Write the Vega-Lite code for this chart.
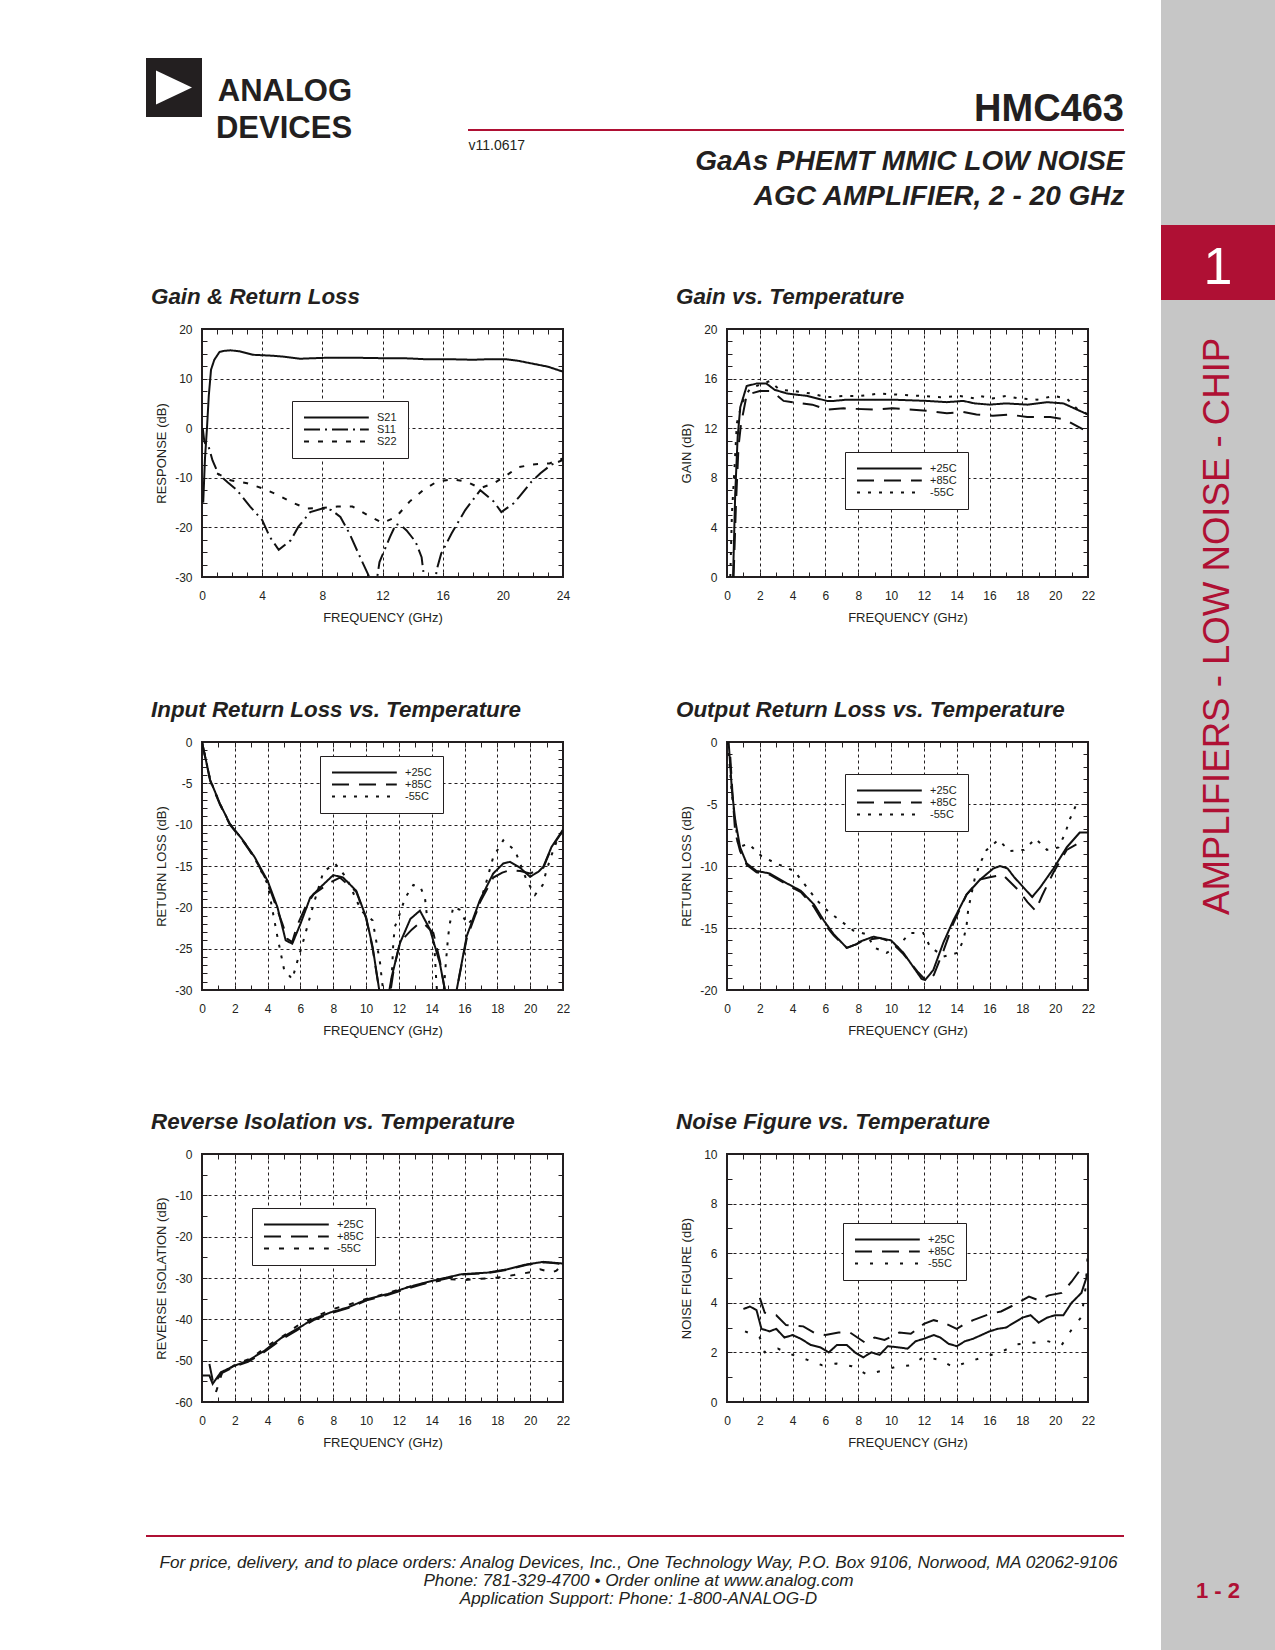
{
"$schema":"https://vega.github.io/schema/vega-lite/v6.json",
"padding":0,
"background":"white",
"data":{"values":[{}]},
"columns":8,
"spacing":0,
"bounds":"flush",
"align":"each",
"resolve":{"scale":{"strokeDash":"independent"},"legend":{"strokeDash":"independent"}},
"config":{
 "view":{"stroke":null},
 "font":"Liberation Sans",
 "axis":{"labelFont":"Liberation Sans","labelFontSize":12,"labelColor":"#231f20","titleFont":"Liberation Sans","titleFontSize":13,"titleFontWeight":"normal","titleColor":"#231f20","domain":false,"ticks":false,"tickSize":-5,"tickColor":"#231f20","tickWidth":1,"gridColor":"#231f20","gridDash":[3,3],"gridWidth":1,"gridOpacity":1,"labelFlush":false,"labelOverlap":false,"labelBound":false},
 "axisX":{"labelPadding":13,"titlePadding":10},
 "axisY":{"labelPadding":10,"titleX":-41,"titleBaseline":"middle"},
 "legend":{"orient":"none","strokeColor":"#231f20","fillColor":"white","padding":11,"labelFont":"Liberation Sans","labelFontSize":11,"labelColor":"#231f20","rowPadding":0,"symbolStrokeWidth":2,"symbolStrokeColor":"#111111","labelOffset":63,"symbolSize":81}
},
"concat":[
{"width":146,"height":58,"view":{"stroke":null},"mark":{"type":"text","text":""}},
{"width":56,"height":58,"view":{"stroke":null},"mark":{"type":"text","text":""}},
{"width":361,"height":58,"view":{"stroke":null},"mark":{"type":"text","text":""}},
{"width":164,"height":58,"view":{"stroke":null},"mark":{"type":"text","text":""}},
{"width":361,"height":58,"view":{"stroke":null},"mark":{"type":"text","text":""}},
{"width":36,"height":58,"view":{"stroke":null},"mark":{"type":"text","text":""}},
{"width":37,"height":58,"view":{"stroke":null},"mark":{"type":"text","text":""}},
{"width":114,"height":58,"view":{"stroke":null,"fill":"#c6c6c6"},"mark":{"type":"text","text":""}},

{"width":1,"height":1,"view":{"stroke":null},"mark":{"type":"text","text":""}},
{"width":56,"height":59,"view":{"stroke":null,"fill":"#231f20"},
 "title":{"text":["ANALOG","DEVICES"],"orient":"right","angle":0,"align":"right","anchor":"middle","baseline":"middle","offset":14,"dy":4.2,"fontSize":31,"fontWeight":"bold","font":"Liberation Sans","lineHeight":37,"color":"#231f20"},
 "mark":{"type":"point","shape":"M-1,-0.95L1,0L-1,0.95Z","size":1296,"filled":true,"color":"white","opacity":1}},
{"width":1,"height":1,"view":{"stroke":null},"mark":{"type":"text","text":""}},
{"width":1,"height":1,"view":{"stroke":null},"mark":{"type":"text","text":""}},
{"width":1,"height":1,"view":{"stroke":null},"mark":{"type":"text","text":""}},
{"width":1,"height":1,"view":{"stroke":null},"mark":{"type":"text","text":""}},
{"width":1,"height":1,"view":{"stroke":null},"mark":{"type":"text","text":""}},
{"width":114,"height":59,"view":{"stroke":null,"fill":"#c6c6c6"},"mark":{"type":"text","text":""}},

{"width":1,"height":1,"view":{"stroke":null},"mark":{"type":"text","text":""}},
{"width":1,"height":1,"view":{"stroke":null},"mark":{"type":"text","text":""}},
{"width":1,"height":1,"view":{"stroke":null},"mark":{"type":"text","text":""}},
{"width":1,"height":1,"view":{"stroke":null},"mark":{"type":"text","text":""}},
{"width":1,"height":1,"view":{"stroke":null},"mark":{"type":"text","text":""}},
{"width":1,"height":1,"view":{"stroke":null},"mark":{"type":"text","text":""}},
{"width":1,"height":1,"view":{"stroke":null},"mark":{"type":"text","text":""}},
{"width":114,"height":12,"view":{"stroke":null,"fill":"#c6c6c6"},"mark":{"type":"text","text":""}},

{"width":1,"height":1,"view":{"stroke":null},"mark":{"type":"text","text":""}},
{"width":1,"height":1,"view":{"stroke":null},"mark":{"type":"text","text":""}},
{"width":361,"height":2,"view":{"stroke":null},"mark":{"type":"bar","color":"#af1034"},
 "encoding":{"x":{"datum":0,"type":"quantitative","scale":{"domain":[0,1],"range":[266,361]},
  "axis":{"orient":"bottom","domain":false,"ticks":false,"labels":false,"grid":false,"title":"v11.0617","titleAnchor":"start","titleAlign":"left","titleBaseline":"top","titleFont":"Liberation Sans","titleFontSize":14,"titleFontWeight":"normal","titleColor":"#231f20","titlePadding":7}},
  "x2":{"datum":1}}},
{"width":164,"height":2,"view":{"stroke":null,"fill":"#af1034"},"mark":{"type":"text","text":""}},
{"width":361,"height":2,"view":{"stroke":null,"fill":"#af1034"},"mark":{"type":"text","text":""}},
{"width":36,"height":2,"view":{"stroke":null,"fill":"#af1034"},
 "title":{"text":"HMC463","orient":"top","anchor":"end","frame":"group","baseline":"top","offset":0,"fontSize":38,"fontWeight":"bold","font":"Liberation Sans","color":"#231f20"},
 "mark":{"type":"point","opacity":0,"size":0},
 "encoding":{"x":{"datum":0,"type":"quantitative","scale":{"domain":[0,1]},
  "axis":{"orient":"bottom","domain":false,"ticks":false,"labels":false,"grid":false,"title":["GaAs PHEMT MMIC LOW NOISE","AGC AMPLIFIER, 2 - 20 GHz"],"titleAnchor":"end","titleAlign":"right","titleBaseline":"top","titleFont":"Liberation Sans","titleFontSize":28,"titleFontWeight":"bold","titleFontStyle":"italic","titleLineHeight":35,"titleColor":"#231f20","titlePadding":16}}}},
{"width":1,"height":1,"view":{"stroke":null},"mark":{"type":"text","text":""}},
{"width":114,"height":2,"view":{"stroke":null,"fill":"#c6c6c6"},"mark":{"type":"text","text":""}},

{"width":1,"height":1,"view":{"stroke":null},"mark":{"type":"text","text":""}},
{"width":1,"height":1,"view":{"stroke":null},"mark":{"type":"text","text":""}},
{"width":1,"height":1,"view":{"stroke":null},"mark":{"type":"text","text":""}},
{"width":1,"height":1,"view":{"stroke":null},"mark":{"type":"text","text":""}},
{"width":1,"height":1,"view":{"stroke":null},"mark":{"type":"text","text":""}},
{"width":1,"height":1,"view":{"stroke":null},"mark":{"type":"text","text":""}},
{"width":1,"height":1,"view":{"stroke":null},"mark":{"type":"text","text":""}},
{"width":114,"height":94,"view":{"stroke":null,"fill":"#c6c6c6"},"mark":{"type":"text","text":""}},

{"width":1,"height":1,"view":{"stroke":null},"mark":{"type":"text","text":""}},
{"width":1,"height":1,"view":{"stroke":null},"mark":{"type":"text","text":""}},
{"width":1,"height":1,"view":{"stroke":null},"mark":{"type":"text","text":""}},
{"width":1,"height":1,"view":{"stroke":null},"mark":{"type":"text","text":""}},
{"width":1,"height":1,"view":{"stroke":null},"mark":{"type":"text","text":""}},
{"width":1,"height":1,"view":{"stroke":null},"mark":{"type":"text","text":""}},
{"width":1,"height":1,"view":{"stroke":null},"mark":{"type":"text","text":""}},
{"width":114,"height":75,"view":{"stroke":null,"fill":"#af1034"},"mark":{"type":"text","text":"1","font":"Liberation Sans","fontSize":52,"color":"white","align":"center","baseline":"middle","dy":5}},

{"width":1,"height":1,"view":{"stroke":null},"mark":{"type":"text","text":""}},
{"width":1,"height":1,"view":{"stroke":null},"mark":{"type":"text","text":""}},
{"width":1,"height":1,"view":{"stroke":null},"mark":{"type":"text","text":""}},
{"width":1,"height":1,"view":{"stroke":null},"mark":{"type":"text","text":""}},
{"width":1,"height":1,"view":{"stroke":null},"mark":{"type":"text","text":""}},
{"width":1,"height":1,"view":{"stroke":null},"mark":{"type":"text","text":""}},
{"width":1,"height":1,"view":{"stroke":null},"mark":{"type":"text","text":""}},
{"width":114,"height":29,"view":{"stroke":null,"fill":"#c6c6c6"},"mark":{"type":"text","text":""}},

{"width":1,"height":1,"view":{"stroke":null},"mark":{"type":"text","text":""}},
{"width":1,"height":1,"view":{"stroke":null},"mark":{"type":"text","text":""}},
{"width":361,"height":248,"view":{"stroke":"#231f20","strokeWidth":2},
 "title":{"text":"Gain & Return Loss","anchor":"start","frame":"group","dx":-51,"offset":15,"baseline":"top","fontSize":22.4,"fontStyle":"italic","fontWeight":"bold","font":"Liberation Sans","color":"#231f20"},
 "data":{"values":[
{"f":0.08,"v":-15,"s":"S21"},{"f":0.2,"v":-6,"s":"S21"},{"f":0.33,"v":0,"s":"S21"},{"f":0.45,"v":6.5,"s":"S21"},{"f":0.6,"v":11.8,"s":"S21"},{"f":0.82,"v":13.8,"s":"S21"},{"f":1.17,"v":15.4,"s":"S21"},{"f":1.5,"v":15.6,"s":"S21"},{"f":1.9,"v":15.7,"s":"S21"},{"f":2.5,"v":15.5,"s":"S21"},{"f":3.4,"v":14.8,"s":"S21"},{"f":4.75,"v":14.6,"s":"S21"},{"f":5.5,"v":14.4,"s":"S21"},{"f":6.5,"v":14.0,"s":"S21"},{"f":7.3,"v":14.1,"s":"S21"},{"f":8.3,"v":14.2,"s":"S21"},{"f":10.3,"v":14.2,"s":"S21"},{"f":12.3,"v":14.1,"s":"S21"},{"f":13.5,"v":14.1,"s":"S21"},{"f":14.9,"v":13.9,"s":"S21"},{"f":16.5,"v":13.9,"s":"S21"},{"f":18,"v":13.8,"s":"S21"},{"f":19,"v":13.9,"s":"S21"},{"f":20.2,"v":13.9,"s":"S21"},{"f":21,"v":13.6,"s":"S21"},{"f":22,"v":13.0,"s":"S21"},{"f":23,"v":12.4,"s":"S21"},{"f":24,"v":11.4,"s":"S21"},
{"f":0.05,"v":0,"s":"S11"},{"f":0.15,"v":-2.6,"s":"S11"},{"f":0.25,"v":-3.4,"s":"S11"},{"f":0.45,"v":-3.8,"s":"S11"},{"f":0.7,"v":-6.5,"s":"S11"},{"f":1.1,"v":-9.3,"s":"S11"},{"f":1.7,"v":-10.9,"s":"S11"},{"f":2.3,"v":-12.4,"s":"S11"},{"f":3.2,"v":-15.8,"s":"S11"},{"f":4.0,"v":-18.5,"s":"S11"},{"f":4.5,"v":-21.9,"s":"S11"},{"f":5.1,"v":-24.5,"s":"S11"},{"f":5.9,"v":-22.6,"s":"S11"},{"f":6.4,"v":-19.9,"s":"S11"},{"f":7.2,"v":-16.9,"s":"S11"},{"f":8.0,"v":-16.2,"s":"S11"},{"f":8.6,"v":-16.5,"s":"S11"},{"f":9.2,"v":-17.9,"s":"S11"},{"f":9.8,"v":-21.2,"s":"S11"},{"f":10.6,"v":-26.6,"s":"S11"},{"f":11.2,"v":-30.5,"s":"S11"},{"f":11.4,"v":-33,"s":"S11"},{"f":11.6,"v":-31,"s":"S11"},{"f":11.8,"v":-27,"s":"S11"},{"f":12.5,"v":-21.9,"s":"S11"},{"f":12.9,"v":-19.3,"s":"S11"},{"f":13.3,"v":-19.8,"s":"S11"},{"f":13.6,"v":-20.6,"s":"S11"},{"f":14.2,"v":-22.9,"s":"S11"},{"f":14.6,"v":-26,"s":"S11"},{"f":14.8,"v":-31,"s":"S11"},{"f":15.0,"v":-34,"s":"S11"},{"f":15.4,"v":-34,"s":"S11"},{"f":15.6,"v":-28.6,"s":"S11"},{"f":15.9,"v":-25.3,"s":"S11"},{"f":16.6,"v":-21.2,"s":"S11"},{"f":17.5,"v":-16.5,"s":"S11"},{"f":18.5,"v":-12.5,"s":"S11"},{"f":19.4,"v":-14.8,"s":"S11"},{"f":19.9,"v":-16.9,"s":"S11"},{"f":20.7,"v":-15.2,"s":"S11"},{"f":21.1,"v":-13.8,"s":"S11"},{"f":21.9,"v":-10.8,"s":"S11"},{"f":22.5,"v":-9.1,"s":"S11"},{"f":23.2,"v":-7.4,"s":"S11"},{"f":24,"v":-6.4,"s":"S11"},
{"f":1.0,"v":-9.1,"s":"S22"},{"f":1.9,"v":-10.5,"s":"S22"},{"f":3.0,"v":-11.1,"s":"S22"},{"f":4.0,"v":-12.1,"s":"S22"},{"f":5.0,"v":-13.4,"s":"S22"},{"f":6.0,"v":-15.0,"s":"S22"},{"f":7.0,"v":-16.2,"s":"S22"},{"f":8.0,"v":-16.1,"s":"S22"},{"f":9.0,"v":-15.8,"s":"S22"},{"f":10.0,"v":-15.8,"s":"S22"},{"f":11.0,"v":-17.5,"s":"S22"},{"f":12.0,"v":-19.1,"s":"S22"},{"f":12.9,"v":-17.9,"s":"S22"},{"f":13.8,"v":-14.8,"s":"S22"},{"f":14.7,"v":-12.5,"s":"S22"},{"f":15.6,"v":-10.8,"s":"S22"},{"f":16.7,"v":-10.3,"s":"S22"},{"f":17.6,"v":-10.8,"s":"S22"},{"f":18.5,"v":-12.1,"s":"S22"},{"f":19.4,"v":-11.1,"s":"S22"},{"f":20.2,"v":-9.6,"s":"S22"},{"f":21.0,"v":-7.9,"s":"S22"},{"f":22.0,"v":-7.3,"s":"S22"},{"f":23.1,"v":-7.1,"s":"S22"},{"f":24,"v":-6.1,"s":"S22"}
 ]},
 "layer":[
  {"mark":{"type":"line","color":"#111111","strokeWidth":2,"clip":true},
   "encoding":{
    "x":{"field":"f","type":"quantitative","scale":{"domain":[0,24],"nice":false},"axis":{"values":[0,4,8,12,16,20,24],"title":"FREQUENCY (GHz)","grid":true,"labelExpr":"'' + datum.value"}},
    "y":{"field":"v","type":"quantitative","scale":{"domain":[-30,20],"nice":false,"zero":false},"axis":{"values":[-30,-20,-10,0,10,20],"title":"RESPONSE (dB)","grid":true,"labelExpr":"'' + datum.value"}},
    "strokeDash":{"field":"s","type":"nominal","scale":{"domain":["S21","S11","S22"],"range":[[1,0],[16,5,2,5],[5,9]]},"legend":{"title":null,"legendX":90,"legendY":72,"symbolType":"M-1,0L13.4,0","symbolSize":81,"symbolStrokeWidth":2,"labelOffset":63}}
   }},
  {"mark":{"type":"point","opacity":0,"size":0},
   "encoding":{
    "x":{"field":"f","type":"quantitative","scale":{"domain":[0,24],"nice":false},"axis":{"orient":"bottom","values":[0,1,2,3,4,5,6,7,8,9,10,11,12,13,14,15,16,17,18,19,20,21,22,23,24],"labels":false,"grid":false,"ticks":true,"title":null}},
    "y":{"field":"v","type":"quantitative","scale":{"domain":[-30,20],"nice":false,"zero":false},"axis":{"orient":"left","values":[-30,-27.5,-25,-22.5,-20,-17.5,-15,-12.5,-10,-7.5,-5,-2.5,0,2.5,5,7.5,10,12.5,15,17.5,20],"labels":false,"grid":false,"ticks":true,"title":null}}
   }},
  {"mark":{"type":"point","opacity":0,"size":0},
   "encoding":{
    "x":{"field":"f","type":"quantitative","scale":{"domain":[0,24],"nice":false},"axis":{"orient":"top","values":[0,1,2,3,4,5,6,7,8,9,10,11,12,13,14,15,16,17,18,19,20,21,22,23,24],"labels":false,"grid":false,"ticks":true,"title":null}},
    "y":{"field":"v","type":"quantitative","scale":{"domain":[-30,20],"nice":false,"zero":false},"axis":{"orient":"right","values":[-30,-27.5,-25,-22.5,-20,-17.5,-15,-12.5,-10,-7.5,-5,-2.5,0,2.5,5,7.5,10,12.5,15,17.5,20],"labels":false,"grid":false,"ticks":true,"title":null}}
   }}
 ],
 "resolve":{"axis":{"x":"independent","y":"independent"}}
},
{"width":1,"height":1,"view":{"stroke":null},"mark":{"type":"text","text":""}},
{"width":361,"height":248,"view":{"stroke":"#231f20","strokeWidth":2},
 "title":{"text":"Gain vs. Temperature","anchor":"start","frame":"group","dx":-51,"offset":15,"baseline":"top","fontSize":22.4,"fontStyle":"italic","fontWeight":"bold","font":"Liberation Sans","color":"#231f20"},
 "data":{"values":[
{"f":0.37,"v":0,"s":"+25C"},{"f":0.5,"v":6.7,"s":"+25C"},{"f":0.65,"v":11.3,"s":"+25C"},{"f":0.81,"v":13.7,"s":"+25C"},{"f":1.2,"v":15.4,"s":"+25C"},{"f":1.8,"v":15.6,"s":"+25C"},{"f":2.4,"v":15.6,"s":"+25C"},{"f":2.9,"v":15.1,"s":"+25C"},{"f":3.65,"v":14.8,"s":"+25C"},{"f":4.9,"v":14.6,"s":"+25C"},{"f":6.1,"v":14.2,"s":"+25C"},{"f":6.5,"v":14.2,"s":"+25C"},{"f":7.3,"v":14.3,"s":"+25C"},{"f":9.1,"v":14.3,"s":"+25C"},{"f":10.1,"v":14.3,"s":"+25C"},{"f":12.2,"v":14.2,"s":"+25C"},{"f":13.4,"v":14.1,"s":"+25C"},{"f":14.4,"v":14.2,"s":"+25C"},{"f":15.1,"v":14.0,"s":"+25C"},{"f":16.0,"v":13.9,"s":"+25C"},{"f":17.0,"v":14.0,"s":"+25C"},{"f":18.3,"v":13.9,"s":"+25C"},{"f":19.5,"v":14.1,"s":"+25C"},{"f":20.5,"v":14.0,"s":"+25C"},{"f":21.0,"v":13.7,"s":"+25C"},{"f":22,"v":13.1,"s":"+25C"},
{"f":0.4,"v":0,"s":"+85C"},{"f":0.55,"v":6,"s":"+85C"},{"f":0.7,"v":10.5,"s":"+85C"},{"f":0.85,"v":12.3,"s":"+85C"},{"f":1.2,"v":14.7,"s":"+85C"},{"f":2.0,"v":15.0,"s":"+85C"},{"f":2.6,"v":15.0,"s":"+85C"},{"f":3.0,"v":14.7,"s":"+85C"},{"f":3.45,"v":14.2,"s":"+85C"},{"f":4.0,"v":14.1,"s":"+85C"},{"f":5.2,"v":13.9,"s":"+85C"},{"f":6.1,"v":13.5,"s":"+85C"},{"f":7.1,"v":13.6,"s":"+85C"},{"f":8.9,"v":13.5,"s":"+85C"},{"f":10.1,"v":13.6,"s":"+85C"},{"f":12.2,"v":13.4,"s":"+85C"},{"f":13.4,"v":13.2,"s":"+85C"},{"f":14.4,"v":13.3,"s":"+85C"},{"f":15.2,"v":13.1,"s":"+85C"},{"f":16.2,"v":13.0,"s":"+85C"},{"f":17.2,"v":13.1,"s":"+85C"},{"f":18.3,"v":12.9,"s":"+85C"},{"f":19.7,"v":12.9,"s":"+85C"},{"f":20.6,"v":12.7,"s":"+85C"},{"f":21.7,"v":11.9,"s":"+85C"},
{"f":0.2,"v":0,"s":"-55C"},{"f":0.3,"v":5.1,"s":"-55C"},{"f":0.45,"v":8.6,"s":"-55C"},{"f":0.6,"v":12.4,"s":"-55C"},{"f":0.9,"v":14.0,"s":"-55C"},{"f":1.4,"v":15.2,"s":"-55C"},{"f":2.2,"v":15.6,"s":"-55C"},{"f":2.6,"v":15.8,"s":"-55C"},{"f":3.2,"v":15.1,"s":"-55C"},{"f":4.1,"v":15.0,"s":"-55C"},{"f":5.1,"v":14.8,"s":"-55C"},{"f":6.1,"v":14.5,"s":"-55C"},{"f":7.1,"v":14.6,"s":"-55C"},{"f":8.1,"v":14.6,"s":"-55C"},{"f":9.3,"v":14.8,"s":"-55C"},{"f":10.5,"v":14.7,"s":"-55C"},{"f":11.8,"v":14.6,"s":"-55C"},{"f":13.0,"v":14.5,"s":"-55C"},{"f":14.2,"v":14.6,"s":"-55C"},{"f":15.1,"v":14.4,"s":"-55C"},{"f":15.4,"v":14.6,"s":"-55C"},{"f":16.2,"v":14.4,"s":"-55C"},{"f":17.0,"v":14.6,"s":"-55C"},{"f":17.8,"v":14.4,"s":"-55C"},{"f":18.9,"v":14.3,"s":"-55C"},{"f":19.9,"v":14.6,"s":"-55C"},{"f":20.7,"v":14.4,"s":"-55C"},{"f":21.3,"v":13.6,"s":"-55C"},{"f":22,"v":13.1,"s":"-55C"}
 ]},
 "layer":[
  {"mark":{"type":"line","color":"#111111","strokeWidth":2,"clip":true},
   "encoding":{
    "x":{"field":"f","type":"quantitative","scale":{"domain":[0,22],"nice":false},"axis":{"values":[0,2,4,6,8,10,12,14,16,18,20,22],"title":"FREQUENCY (GHz)","grid":true,"labelExpr":"'' + datum.value"}},
    "y":{"field":"v","type":"quantitative","scale":{"domain":[0,20],"nice":false,"zero":false},"axis":{"values":[0,4,8,12,16,20],"title":"GAIN (dB)","grid":true,"labelExpr":"'' + datum.value"}},
    "strokeDash":{"field":"s","type":"nominal","scale":{"domain":["+25C","+85C","-55C"],"range":[[1,0],[17,10],[3,8]]},"legend":{"title":null,"legendX":118,"legendY":123,"symbolType":"M-1,0L13.4,0","symbolSize":81,"symbolStrokeWidth":2,"labelOffset":63}}
   }},
  {"mark":{"type":"point","opacity":0,"size":0},
   "encoding":{
    "x":{"field":"f","type":"quantitative","scale":{"domain":[0,22],"nice":false},"axis":{"orient":"bottom","values":[0,1,2,3,4,5,6,7,8,9,10,11,12,13,14,15,16,17,18,19,20,21,22],"labels":false,"grid":false,"ticks":true,"title":null}},
    "y":{"field":"v","type":"quantitative","scale":{"domain":[0,20],"nice":false,"zero":false},"axis":{"orient":"left","values":[0,1,2,3,4,5,6,7,8,9,10,11,12,13,14,15,16,17,18,19,20],"labels":false,"grid":false,"ticks":true,"title":null}}
   }},
  {"mark":{"type":"point","opacity":0,"size":0},
   "encoding":{
    "x":{"field":"f","type":"quantitative","scale":{"domain":[0,22],"nice":false},"axis":{"orient":"top","values":[0,1,2,3,4,5,6,7,8,9,10,11,12,13,14,15,16,17,18,19,20,21,22],"labels":false,"grid":false,"ticks":true,"title":null}},
    "y":{"field":"v","type":"quantitative","scale":{"domain":[0,20],"nice":false,"zero":false},"axis":{"orient":"right","values":[0,1,2,3,4,5,6,7,8,9,10,11,12,13,14,15,16,17,18,19,20],"labels":false,"grid":false,"ticks":true,"title":null}}
   }}
 ],
 "resolve":{"axis":{"x":"independent","y":"independent"}}
},
{"width":1,"height":1,"view":{"stroke":null},"mark":{"type":"text","text":""}},
{"width":1,"height":1,"view":{"stroke":null},"mark":{"type":"text","text":""}},
{"width":114,"height":248,"view":{"stroke":null,"fill":"#c6c6c6"},"mark":{"type":"text","text":""}},

{"width":1,"height":1,"view":{"stroke":null},"mark":{"type":"text","text":""}},
{"width":1,"height":1,"view":{"stroke":null},"mark":{"type":"text","text":""}},
{"width":1,"height":1,"view":{"stroke":null},"mark":{"type":"text","text":""}},
{"width":1,"height":1,"view":{"stroke":null},"mark":{"type":"text","text":""}},
{"width":1,"height":1,"view":{"stroke":null},"mark":{"type":"text","text":""}},
{"width":1,"height":1,"view":{"stroke":null},"mark":{"type":"text","text":""}},
{"width":1,"height":1,"view":{"stroke":null},"mark":{"type":"text","text":""}},
{"width":114,"height":94,"view":{"stroke":null,"fill":"#c6c6c6"},"mark":{"type":"text","text":""}},

{"width":1,"height":1,"view":{"stroke":null},"mark":{"type":"text","text":""}},
{"width":1,"height":1,"view":{"stroke":null},"mark":{"type":"text","text":""}},
{"width":1,"height":1,"view":{"stroke":null},"mark":{"type":"text","text":""}},
{"width":1,"height":1,"view":{"stroke":null},"mark":{"type":"text","text":""}},
{"width":1,"height":1,"view":{"stroke":null},"mark":{"type":"text","text":""}},
{"width":1,"height":1,"view":{"stroke":null},"mark":{"type":"text","text":""}},
{"width":1,"height":1,"view":{"stroke":null},"mark":{"type":"text","text":""}},
{"width":114,"height":71,"view":{"stroke":null,"fill":"#c6c6c6"},"mark":{"type":"text","text":""}},

{"width":1,"height":1,"view":{"stroke":null},"mark":{"type":"text","text":""}},
{"width":1,"height":1,"view":{"stroke":null},"mark":{"type":"text","text":""}},
{"width":361,"height":248,"view":{"stroke":"#231f20","strokeWidth":2},
 "title":{"text":"Input Return Loss vs. Temperature","anchor":"start","frame":"group","dx":-51,"offset":15,"baseline":"top","fontSize":22.4,"fontStyle":"italic","fontWeight":"bold","font":"Liberation Sans","color":"#231f20"},
 "data":{"values":[
{"f":0,"v":0,"s":"+25C"},{"f":0.5,"v":-4.6,"s":"+25C"},{"f":1.1,"v":-7.5,"s":"+25C"},{"f":1.7,"v":-9.9,"s":"+25C"},{"f":2.5,"v":-11.9,"s":"+25C"},{"f":3.2,"v":-13.9,"s":"+25C"},{"f":4.0,"v":-16.8,"s":"+25C"},{"f":4.6,"v":-20,"s":"+25C"},{"f":5.1,"v":-24,"s":"+25C"},{"f":5.5,"v":-24.4,"s":"+25C"},{"f":6.0,"v":-22,"s":"+25C"},{"f":6.6,"v":-18.8,"s":"+25C"},{"f":7.2,"v":-17.6,"s":"+25C"},{"f":8.0,"v":-16.1,"s":"+25C"},{"f":8.6,"v":-16.4,"s":"+25C"},{"f":9.4,"v":-18,"s":"+25C"},{"f":10.0,"v":-21.2,"s":"+25C"},{"f":10.4,"v":-24.8,"s":"+25C"},{"f":10.8,"v":-30,"s":"+25C"},{"f":11.0,"v":-33,"s":"+25C"},{"f":11.3,"v":-33,"s":"+25C"},{"f":11.42,"v":-30,"s":"+25C"},{"f":11.56,"v":-28.4,"s":"+25C"},{"f":12.07,"v":-24.3,"s":"+25C"},{"f":12.7,"v":-21.4,"s":"+25C"},{"f":13.28,"v":-20.4,"s":"+25C"},{"f":13.9,"v":-22.7,"s":"+25C"},{"f":14.5,"v":-26.8,"s":"+25C"},{"f":14.8,"v":-30,"s":"+25C"},{"f":15.0,"v":-33,"s":"+25C"},{"f":15.4,"v":-33,"s":"+25C"},{"f":15.52,"v":-30,"s":"+25C"},{"f":16.13,"v":-23.5,"s":"+25C"},{"f":16.94,"v":-19.1,"s":"+25C"},{"f":17.75,"v":-15.9,"s":"+25C"},{"f":18.36,"v":-14.7,"s":"+25C"},{"f":18.77,"v":-14.5,"s":"+25C"},{"f":19.38,"v":-15.2,"s":"+25C"},{"f":19.99,"v":-16.3,"s":"+25C"},{"f":20.5,"v":-15.7,"s":"+25C"},{"f":20.8,"v":-15.1,"s":"+25C"},{"f":21.3,"v":-12.7,"s":"+25C"},{"f":22,"v":-10.6,"s":"+25C"},
{"f":0,"v":0,"s":"+85C"},{"f":0.5,"v":-4.7,"s":"+85C"},{"f":1.1,"v":-7.6,"s":"+85C"},{"f":1.7,"v":-10,"s":"+85C"},{"f":2.5,"v":-12,"s":"+85C"},{"f":3.2,"v":-14,"s":"+85C"},{"f":4.0,"v":-17,"s":"+85C"},{"f":4.5,"v":-19.8,"s":"+85C"},{"f":4.9,"v":-22,"s":"+85C"},{"f":5.2,"v":-23.8,"s":"+85C"},{"f":5.5,"v":-24.2,"s":"+85C"},{"f":5.8,"v":-22.2,"s":"+85C"},{"f":6.3,"v":-20,"s":"+85C"},{"f":6.8,"v":-18.4,"s":"+85C"},{"f":7.8,"v":-17,"s":"+85C"},{"f":8.4,"v":-16.4,"s":"+85C"},{"f":9.4,"v":-18.1,"s":"+85C"},{"f":10.0,"v":-21.3,"s":"+85C"},{"f":10.4,"v":-25,"s":"+85C"},{"f":10.8,"v":-30,"s":"+85C"},{"f":11.0,"v":-33,"s":"+85C"},{"f":11.3,"v":-33,"s":"+85C"},{"f":11.5,"v":-30,"s":"+85C"},{"f":11.7,"v":-27.3,"s":"+85C"},{"f":12.07,"v":-24.2,"s":"+85C"},{"f":12.78,"v":-22.7,"s":"+85C"},{"f":13.2,"v":-22,"s":"+85C"},{"f":13.49,"v":-21.9,"s":"+85C"},{"f":14.1,"v":-23.1,"s":"+85C"},{"f":14.5,"v":-26.5,"s":"+85C"},{"f":14.8,"v":-30,"s":"+85C"},{"f":15.0,"v":-33,"s":"+85C"},{"f":15.4,"v":-33,"s":"+85C"},{"f":15.52,"v":-30,"s":"+85C"},{"f":16.13,"v":-23.8,"s":"+85C"},{"f":16.94,"v":-19.4,"s":"+85C"},{"f":17.75,"v":-16.4,"s":"+85C"},{"f":18.3,"v":-15.8,"s":"+85C"},{"f":18.77,"v":-15.5,"s":"+85C"},{"f":19.4,"v":-15.6,"s":"+85C"},{"f":19.99,"v":-15.9,"s":"+85C"},{"f":20.5,"v":-15.5,"s":"+85C"},{"f":20.8,"v":-15.2,"s":"+85C"},{"f":21.3,"v":-12.8,"s":"+85C"},{"f":22,"v":-10.7,"s":"+85C"},
{"f":0,"v":0,"s":"-55C"},{"f":0.5,"v":-4.6,"s":"-55C"},{"f":1.1,"v":-7.5,"s":"-55C"},{"f":1.7,"v":-9.9,"s":"-55C"},{"f":2.5,"v":-11.9,"s":"-55C"},{"f":3.2,"v":-14,"s":"-55C"},{"f":4.0,"v":-17.2,"s":"-55C"},{"f":4.6,"v":-23.6,"s":"-55C"},{"f":5.0,"v":-27.5,"s":"-55C"},{"f":5.5,"v":-28.7,"s":"-55C"},{"f":5.8,"v":-26.6,"s":"-55C"},{"f":6.1,"v":-24.6,"s":"-55C"},{"f":6.8,"v":-19.6,"s":"-55C"},{"f":7.4,"v":-15.7,"s":"-55C"},{"f":8.1,"v":-14.7,"s":"-55C"},{"f":8.8,"v":-16.4,"s":"-55C"},{"f":9.7,"v":-20.4,"s":"-55C"},{"f":10.4,"v":-21.6,"s":"-55C"},{"f":10.85,"v":-26.7,"s":"-55C"},{"f":10.95,"v":-28.6,"s":"-55C"},{"f":11.1,"v":-31,"s":"-55C"},{"f":11.3,"v":-33,"s":"-55C"},{"f":11.5,"v":-31,"s":"-55C"},{"f":11.66,"v":-24.2,"s":"-55C"},{"f":11.76,"v":-22.3,"s":"-55C"},{"f":12.07,"v":-20.7,"s":"-55C"},{"f":12.37,"v":-18.9,"s":"-55C"},{"f":12.88,"v":-17.3,"s":"-55C"},{"f":13.3,"v":-17.5,"s":"-55C"},{"f":13.59,"v":-18.9,"s":"-55C"},{"f":13.69,"v":-20.7,"s":"-55C"},{"f":14.1,"v":-23.5,"s":"-55C"},{"f":14.2,"v":-26,"s":"-55C"},{"f":14.25,"v":-28,"s":"-55C"},{"f":14.35,"v":-31,"s":"-55C"},{"f":14.5,"v":-33,"s":"-55C"},{"f":14.7,"v":-31,"s":"-55C"},{"f":14.85,"v":-27,"s":"-55C"},{"f":15.0,"v":-23.5,"s":"-55C"},{"f":15.11,"v":-21.9,"s":"-55C"},{"f":15.32,"v":-19.9,"s":"-55C"},{"f":15.7,"v":-20.3,"s":"-55C"},{"f":16.17,"v":-22.1,"s":"-55C"},{"f":16.64,"v":-21.1,"s":"-55C"},{"f":17.25,"v":-17.5,"s":"-55C"},{"f":17.75,"v":-13.9,"s":"-55C"},{"f":18.36,"v":-11.9,"s":"-55C"},{"f":19.07,"v":-13.1,"s":"-55C"},{"f":19.78,"v":-16.7,"s":"-55C"},{"f":20.29,"v":-18.5,"s":"-55C"},{"f":20.76,"v":-17.3,"s":"-55C"},{"f":21.0,"v":-15.5,"s":"-55C"},{"f":21.3,"v":-13.7,"s":"-55C"},{"f":21.6,"v":-12.1,"s":"-55C"},{"f":22,"v":-10.6,"s":"-55C"}
 ]},
 "layer":[
  {"mark":{"type":"line","color":"#111111","strokeWidth":2,"clip":true},
   "encoding":{
    "x":{"field":"f","type":"quantitative","scale":{"domain":[0,22],"nice":false},"axis":{"values":[0,2,4,6,8,10,12,14,16,18,20,22],"title":"FREQUENCY (GHz)","grid":true,"labelExpr":"'' + datum.value"}},
    "y":{"field":"v","type":"quantitative","scale":{"domain":[-30,0],"nice":false,"zero":false},"axis":{"values":[-30,-25,-20,-15,-10,-5,0],"title":"RETURN LOSS (dB)","grid":true,"labelExpr":"'' + datum.value"}},
    "strokeDash":{"field":"s","type":"nominal","scale":{"domain":["+25C","+85C","-55C"],"range":[[1,0],[17,10],[3,8]]},"legend":{"title":null,"legendX":118,"legendY":14,"symbolType":"M-1,0L13.4,0","symbolSize":81,"symbolStrokeWidth":2,"labelOffset":63}}
   }},
  {"mark":{"type":"point","opacity":0,"size":0},
   "encoding":{
    "x":{"field":"f","type":"quantitative","scale":{"domain":[0,22],"nice":false},"axis":{"orient":"bottom","values":[0,1,2,3,4,5,6,7,8,9,10,11,12,13,14,15,16,17,18,19,20,21,22],"labels":false,"grid":false,"ticks":true,"title":null}},
    "y":{"field":"v","type":"quantitative","scale":{"domain":[-30,0],"nice":false,"zero":false},"axis":{"orient":"left","values":[-30,-29,-28,-27,-26,-25,-24,-23,-22,-21,-20,-19,-18,-17,-16,-15,-14,-13,-12,-11,-10,-9,-8,-7,-6,-5,-4,-3,-2,-1,0],"labels":false,"grid":false,"ticks":true,"title":null}}
   }},
  {"mark":{"type":"point","opacity":0,"size":0},
   "encoding":{
    "x":{"field":"f","type":"quantitative","scale":{"domain":[0,22],"nice":false},"axis":{"orient":"top","values":[0,1,2,3,4,5,6,7,8,9,10,11,12,13,14,15,16,17,18,19,20,21,22],"labels":false,"grid":false,"ticks":true,"title":null}},
    "y":{"field":"v","type":"quantitative","scale":{"domain":[-30,0],"nice":false,"zero":false},"axis":{"orient":"right","values":[-30,-29,-28,-27,-26,-25,-24,-23,-22,-21,-20,-19,-18,-17,-16,-15,-14,-13,-12,-11,-10,-9,-8,-7,-6,-5,-4,-3,-2,-1,0],"labels":false,"grid":false,"ticks":true,"title":null}}
   }}
 ],
 "resolve":{"axis":{"x":"independent","y":"independent"}}
},
{"width":1,"height":1,"view":{"stroke":null},"mark":{"type":"text","text":""}},
{"width":361,"height":248,"view":{"stroke":"#231f20","strokeWidth":2},
 "title":{"text":"Output Return Loss vs. Temperature","anchor":"start","frame":"group","dx":-51,"offset":15,"baseline":"top","fontSize":22.4,"fontStyle":"italic","fontWeight":"bold","font":"Liberation Sans","color":"#231f20"},
 "data":{"values":[
{"f":0.1,"v":0,"s":"+25C"},{"f":0.3,"v":-3.9,"s":"+25C"},{"f":0.5,"v":-6.3,"s":"+25C"},{"f":0.8,"v":-8.5,"s":"+25C"},{"f":1.2,"v":-9.8,"s":"+25C"},{"f":1.8,"v":-10.4,"s":"+25C"},{"f":2.6,"v":-10.6,"s":"+25C"},{"f":3.65,"v":-11.4,"s":"+25C"},{"f":4.5,"v":-12.0,"s":"+25C"},{"f":5.3,"v":-13.1,"s":"+25C"},{"f":5.9,"v":-14.4,"s":"+25C"},{"f":6.5,"v":-15.5,"s":"+25C"},{"f":7.3,"v":-16.6,"s":"+25C"},{"f":7.9,"v":-16.3,"s":"+25C"},{"f":8.1,"v":-16.1,"s":"+25C"},{"f":8.92,"v":-15.7,"s":"+25C"},{"f":10.0,"v":-16.0,"s":"+25C"},{"f":10.75,"v":-17.0,"s":"+25C"},{"f":11.86,"v":-19.1,"s":"+25C"},{"f":12.07,"v":-19.2,"s":"+25C"},{"f":12.57,"v":-18.4,"s":"+25C"},{"f":13.18,"v":-16.2,"s":"+25C"},{"f":13.79,"v":-14.4,"s":"+25C"},{"f":14.6,"v":-12.3,"s":"+25C"},{"f":15.42,"v":-11.1,"s":"+25C"},{"f":16.23,"v":-10.2,"s":"+25C"},{"f":16.64,"v":-10.0,"s":"+25C"},{"f":17.1,"v":-10.2,"s":"+25C"},{"f":17.5,"v":-10.9,"s":"+25C"},{"f":18.05,"v":-11.7,"s":"+25C"},{"f":18.6,"v":-12.5,"s":"+25C"},{"f":19.1,"v":-11.7,"s":"+25C"},{"f":19.9,"v":-10.2,"s":"+25C"},{"f":20.7,"v":-8.5,"s":"+25C"},{"f":21.5,"v":-7.3,"s":"+25C"},{"f":22,"v":-7.3,"s":"+25C"},
{"f":0.2,"v":-1.2,"s":"+85C"},{"f":0.35,"v":-4.5,"s":"+85C"},{"f":0.5,"v":-7.3,"s":"+85C"},{"f":0.8,"v":-8.8,"s":"+85C"},{"f":1.2,"v":-9.9,"s":"+85C"},{"f":1.8,"v":-10.5,"s":"+85C"},{"f":2.6,"v":-10.7,"s":"+85C"},{"f":3.65,"v":-11.5,"s":"+85C"},{"f":4.5,"v":-12.1,"s":"+85C"},{"f":5.3,"v":-13.3,"s":"+85C"},{"f":5.9,"v":-14.6,"s":"+85C"},{"f":6.5,"v":-15.6,"s":"+85C"},{"f":7.3,"v":-16.6,"s":"+85C"},{"f":7.9,"v":-16.3,"s":"+85C"},{"f":8.3,"v":-16.0,"s":"+85C"},{"f":9.3,"v":-15.8,"s":"+85C"},{"f":10.0,"v":-16.1,"s":"+85C"},{"f":10.75,"v":-17.1,"s":"+85C"},{"f":11.6,"v":-18.5,"s":"+85C"},{"f":12.1,"v":-19.2,"s":"+85C"},{"f":12.6,"v":-18.8,"s":"+85C"},{"f":13.2,"v":-16.8,"s":"+85C"},{"f":13.8,"v":-14.6,"s":"+85C"},{"f":14.6,"v":-12.3,"s":"+85C"},{"f":15.4,"v":-11.1,"s":"+85C"},{"f":16.0,"v":-10.9,"s":"+85C"},{"f":16.8,"v":-10.7,"s":"+85C"},{"f":17.8,"v":-12.0,"s":"+85C"},{"f":18.3,"v":-12.9,"s":"+85C"},{"f":18.8,"v":-13.6,"s":"+85C"},{"f":19.2,"v":-12.4,"s":"+85C"},{"f":19.9,"v":-10.5,"s":"+85C"},{"f":20.7,"v":-8.7,"s":"+85C"},{"f":21.5,"v":-8.1,"s":"+85C"},
{"f":0.05,"v":0,"s":"-55C"},{"f":0.3,"v":-4.2,"s":"-55C"},{"f":0.7,"v":-8.5,"s":"-55C"},{"f":1.3,"v":-8.2,"s":"-55C"},{"f":2.1,"v":-9.2,"s":"-55C"},{"f":3.0,"v":-9.8,"s":"-55C"},{"f":4.1,"v":-10.4,"s":"-55C"},{"f":4.8,"v":-11.6,"s":"-55C"},{"f":5.5,"v":-12.8,"s":"-55C"},{"f":6.2,"v":-13.7,"s":"-55C"},{"f":7.0,"v":-14.5,"s":"-55C"},{"f":7.7,"v":-15.2,"s":"-55C"},{"f":8.5,"v":-15.5,"s":"-55C"},{"f":9.0,"v":-16.6,"s":"-55C"},{"f":9.73,"v":-17.0,"s":"-55C"},{"f":10.4,"v":-16.5,"s":"-55C"},{"f":11.15,"v":-15.4,"s":"-55C"},{"f":11.96,"v":-15.4,"s":"-55C"},{"f":12.37,"v":-16.5,"s":"-55C"},{"f":13.2,"v":-17.3,"s":"-55C"},{"f":14.05,"v":-17.0,"s":"-55C"},{"f":14.4,"v":-16.0,"s":"-55C"},{"f":14.6,"v":-14.8,"s":"-55C"},{"f":14.7,"v":-13.5,"s":"-55C"},{"f":15.1,"v":-11.0,"s":"-55C"},{"f":15.42,"v":-9.8,"s":"-55C"},{"f":15.82,"v":-8.7,"s":"-55C"},{"f":16.53,"v":-7.9,"s":"-55C"},{"f":17.25,"v":-8.8,"s":"-55C"},{"f":18.1,"v":-8.7,"s":"-55C"},{"f":18.8,"v":-7.8,"s":"-55C"},{"f":19.5,"v":-8.7,"s":"-55C"},{"f":20.2,"v":-8.5,"s":"-55C"},{"f":20.6,"v":-7.4,"s":"-55C"},{"f":20.9,"v":-6.2,"s":"-55C"},{"f":21.3,"v":-5.0,"s":"-55C"},{"f":21.5,"v":-4.8,"s":"-55C"}
 ]},
 "layer":[
  {"mark":{"type":"line","color":"#111111","strokeWidth":2,"clip":true},
   "encoding":{
    "x":{"field":"f","type":"quantitative","scale":{"domain":[0,22],"nice":false},"axis":{"values":[0,2,4,6,8,10,12,14,16,18,20,22],"title":"FREQUENCY (GHz)","grid":true,"labelExpr":"'' + datum.value"}},
    "y":{"field":"v","type":"quantitative","scale":{"domain":[-20,0],"nice":false,"zero":false},"axis":{"values":[-20,-15,-10,-5,0],"title":"RETURN LOSS (dB)","grid":true,"labelExpr":"'' + datum.value"}},
    "strokeDash":{"field":"s","type":"nominal","scale":{"domain":["+25C","+85C","-55C"],"range":[[1,0],[17,10],[3,8]]},"legend":{"title":null,"legendX":118,"legendY":32,"symbolType":"M-1,0L13.4,0","symbolSize":81,"symbolStrokeWidth":2,"labelOffset":63}}
   }},
  {"mark":{"type":"point","opacity":0,"size":0},
   "encoding":{
    "x":{"field":"f","type":"quantitative","scale":{"domain":[0,22],"nice":false},"axis":{"orient":"bottom","values":[0,1,2,3,4,5,6,7,8,9,10,11,12,13,14,15,16,17,18,19,20,21,22],"labels":false,"grid":false,"ticks":true,"title":null}},
    "y":{"field":"v","type":"quantitative","scale":{"domain":[-20,0],"nice":false,"zero":false},"axis":{"orient":"left","values":[-20,-19,-18,-17,-16,-15,-14,-13,-12,-11,-10,-9,-8,-7,-6,-5,-4,-3,-2,-1,0],"labels":false,"grid":false,"ticks":true,"title":null}}
   }},
  {"mark":{"type":"point","opacity":0,"size":0},
   "encoding":{
    "x":{"field":"f","type":"quantitative","scale":{"domain":[0,22],"nice":false},"axis":{"orient":"top","values":[0,1,2,3,4,5,6,7,8,9,10,11,12,13,14,15,16,17,18,19,20,21,22],"labels":false,"grid":false,"ticks":true,"title":null}},
    "y":{"field":"v","type":"quantitative","scale":{"domain":[-20,0],"nice":false,"zero":false},"axis":{"orient":"right","values":[-20,-19,-18,-17,-16,-15,-14,-13,-12,-11,-10,-9,-8,-7,-6,-5,-4,-3,-2,-1,0],"labels":false,"grid":false,"ticks":true,"title":null}}
   }}
 ],
 "resolve":{"axis":{"x":"independent","y":"independent"}}
},
{"width":1,"height":1,"view":{"stroke":null},"mark":{"type":"text","text":""}},
{"width":1,"height":1,"view":{"stroke":null},"mark":{"type":"text","text":""}},
{"width":114,"height":248,"view":{"stroke":null,"fill":"#c6c6c6"},"mark":{"type":"text","text":"AMPLIFIERS - LOW NOISE - CHIP","font":"Liberation Sans","fontSize":36.6,"color":"#af1034","angle":270,"align":"left","baseline":"middle","dx":-49}},

{"width":1,"height":1,"view":{"stroke":null},"mark":{"type":"text","text":""}},
{"width":1,"height":1,"view":{"stroke":null},"mark":{"type":"text","text":""}},
{"width":1,"height":1,"view":{"stroke":null},"mark":{"type":"text","text":""}},
{"width":1,"height":1,"view":{"stroke":null},"mark":{"type":"text","text":""}},
{"width":1,"height":1,"view":{"stroke":null},"mark":{"type":"text","text":""}},
{"width":1,"height":1,"view":{"stroke":null},"mark":{"type":"text","text":""}},
{"width":1,"height":1,"view":{"stroke":null},"mark":{"type":"text","text":""}},
{"width":114,"height":164,"view":{"stroke":null,"fill":"#c6c6c6"},"mark":{"type":"text","text":""}},

{"width":1,"height":1,"view":{"stroke":null},"mark":{"type":"text","text":""}},
{"width":1,"height":1,"view":{"stroke":null},"mark":{"type":"text","text":""}},
{"width":361,"height":248,"view":{"stroke":"#231f20","strokeWidth":2},
 "title":{"text":"Reverse Isolation vs. Temperature","anchor":"start","frame":"group","dx":-51,"offset":15,"baseline":"top","fontSize":22.4,"fontStyle":"italic","fontWeight":"bold","font":"Liberation Sans","color":"#231f20"},
 "data":{"values":[
{"f":0,"v":-53.6,"s":"+25C"},{"f":0.45,"v":-53.6,"s":"+25C"},{"f":0.65,"v":-55.6,"s":"+25C"},{"f":1.15,"v":-52.8,"s":"+25C"},{"f":2.0,"v":-51.2,"s":"+25C"},{"f":2.8,"v":-50,"s":"+25C"},{"f":3.8,"v":-47.6,"s":"+25C"},{"f":4.8,"v":-44.6,"s":"+25C"},{"f":5.8,"v":-42.3,"s":"+25C"},{"f":6.8,"v":-39.9,"s":"+25C"},{"f":7.85,"v":-38.3,"s":"+25C"},{"f":8.9,"v":-37.1,"s":"+25C"},{"f":10.1,"v":-35.1,"s":"+25C"},{"f":11.3,"v":-33.9,"s":"+25C"},{"f":12.5,"v":-32.3,"s":"+25C"},{"f":13.7,"v":-31.0,"s":"+25C"},{"f":14.9,"v":-29.9,"s":"+25C"},{"f":15.8,"v":-29.1,"s":"+25C"},{"f":17.4,"v":-28.7,"s":"+25C"},{"f":18.6,"v":-27.9,"s":"+25C"},{"f":19.8,"v":-26.7,"s":"+25C"},{"f":20.8,"v":-26.1,"s":"+25C"},{"f":21.4,"v":-26.3,"s":"+25C"},{"f":22,"v":-26.5,"s":"+25C"},
{"f":0.45,"v":-50.8,"s":"+85C"},{"f":0.7,"v":-55.7,"s":"+85C"},{"f":1.2,"v":-53.0,"s":"+85C"},{"f":2.0,"v":-51.4,"s":"+85C"},{"f":2.8,"v":-50.3,"s":"+85C"},{"f":3.8,"v":-47.9,"s":"+85C"},{"f":4.8,"v":-45.0,"s":"+85C"},{"f":5.8,"v":-42.6,"s":"+85C"},{"f":6.8,"v":-40.2,"s":"+85C"},{"f":7.85,"v":-38.5,"s":"+85C"},{"f":8.9,"v":-37.3,"s":"+85C"},{"f":10.1,"v":-35.3,"s":"+85C"},{"f":11.3,"v":-34.1,"s":"+85C"},{"f":12.5,"v":-32.6,"s":"+85C"},{"f":13.7,"v":-31.2,"s":"+85C"},{"f":14.9,"v":-30.1,"s":"+85C"},{"f":15.8,"v":-29.2,"s":"+85C"},{"f":17.4,"v":-28.8,"s":"+85C"},{"f":18.6,"v":-28.0,"s":"+85C"},{"f":19.8,"v":-26.8,"s":"+85C"},{"f":20.8,"v":-26.2,"s":"+85C"},{"f":21.4,"v":-26.4,"s":"+85C"},{"f":22,"v":-26.6,"s":"+85C"},
{"f":0.55,"v":-61,"s":"-55C"},{"f":0.9,"v":-57,"s":"-55C"},{"f":1.2,"v":-53.2,"s":"-55C"},{"f":2.0,"v":-51.0,"s":"-55C"},{"f":3.0,"v":-49.4,"s":"-55C"},{"f":4.0,"v":-46.4,"s":"-55C"},{"f":5.0,"v":-43.9,"s":"-55C"},{"f":5.9,"v":-41.3,"s":"-55C"},{"f":6.9,"v":-39.4,"s":"-55C"},{"f":7.9,"v":-37.6,"s":"-55C"},{"f":8.9,"v":-36.5,"s":"-55C"},{"f":9.9,"v":-35.2,"s":"-55C"},{"f":11.0,"v":-34,"s":"-55C"},{"f":12.1,"v":-32.7,"s":"-55C"},{"f":13.1,"v":-31.6,"s":"-55C"},{"f":14.0,"v":-31.0,"s":"-55C"},{"f":15.0,"v":-30.3,"s":"-55C"},{"f":16.0,"v":-30.5,"s":"-55C"},{"f":17.0,"v":-30.2,"s":"-55C"},{"f":18.0,"v":-29.9,"s":"-55C"},{"f":19.0,"v":-29.3,"s":"-55C"},{"f":20.0,"v":-28.6,"s":"-55C"},{"f":20.6,"v":-27.9,"s":"-55C"},{"f":21.3,"v":-28.7,"s":"-55C"},{"f":21.6,"v":-28.2,"s":"-55C"},{"f":22,"v":-26.8,"s":"-55C"}
 ]},
 "layer":[
  {"mark":{"type":"line","color":"#111111","strokeWidth":2,"clip":true},
   "encoding":{
    "x":{"field":"f","type":"quantitative","scale":{"domain":[0,22],"nice":false},"axis":{"values":[0,2,4,6,8,10,12,14,16,18,20,22],"title":"FREQUENCY (GHz)","grid":true,"labelExpr":"'' + datum.value"}},
    "y":{"field":"v","type":"quantitative","scale":{"domain":[-60,0],"nice":false,"zero":false},"axis":{"values":[-60,-50,-40,-30,-20,-10,0],"title":"REVERSE ISOLATION (dB)","grid":true,"labelExpr":"'' + datum.value"}},
    "strokeDash":{"field":"s","type":"nominal","scale":{"domain":["+25C","+85C","-55C"],"range":[[1,0],[17,10],[5,10]]},"legend":{"title":null,"legendX":50,"legendY":54,"symbolType":"M-1,0L13.4,0","symbolSize":81,"symbolStrokeWidth":2,"labelOffset":63}}
   }},
  {"mark":{"type":"point","opacity":0,"size":0},
   "encoding":{
    "x":{"field":"f","type":"quantitative","scale":{"domain":[0,22],"nice":false},"axis":{"orient":"bottom","values":[0,1,2,3,4,5,6,7,8,9,10,11,12,13,14,15,16,17,18,19,20,21,22],"labels":false,"grid":false,"ticks":true,"title":null}},
    "y":{"field":"v","type":"quantitative","scale":{"domain":[-60,0],"nice":false,"zero":false},"axis":{"orient":"left","values":[-60,-55,-50,-45,-40,-35,-30,-25,-20,-15,-10,-5,0],"labels":false,"grid":false,"ticks":true,"title":null}}
   }},
  {"mark":{"type":"point","opacity":0,"size":0},
   "encoding":{
    "x":{"field":"f","type":"quantitative","scale":{"domain":[0,22],"nice":false},"axis":{"orient":"top","values":[0,1,2,3,4,5,6,7,8,9,10,11,12,13,14,15,16,17,18,19,20,21,22],"labels":false,"grid":false,"ticks":true,"title":null}},
    "y":{"field":"v","type":"quantitative","scale":{"domain":[-60,0],"nice":false,"zero":false},"axis":{"orient":"right","values":[-60,-55,-50,-45,-40,-35,-30,-25,-20,-15,-10,-5,0],"labels":false,"grid":false,"ticks":true,"title":null}}
   }}
 ],
 "resolve":{"axis":{"x":"independent","y":"independent"}}
},
{"width":1,"height":1,"view":{"stroke":null},"mark":{"type":"text","text":""}},
{"width":361,"height":248,"view":{"stroke":"#231f20","strokeWidth":2},
 "title":{"text":"Noise Figure vs. Temperature","anchor":"start","frame":"group","dx":-51,"offset":15,"baseline":"top","fontSize":22.4,"fontStyle":"italic","fontWeight":"bold","font":"Liberation Sans","color":"#231f20"},
 "data":{"values":[
{"f":1.0,"v":3.75,"s":"+25C"},{"f":1.4,"v":3.85,"s":"+25C"},{"f":1.8,"v":3.7,"s":"+25C"},{"f":2.1,"v":2.95,"s":"+25C"},{"f":2.6,"v":2.85,"s":"+25C"},{"f":3.0,"v":2.95,"s":"+25C"},{"f":3.5,"v":2.6,"s":"+25C"},{"f":4.0,"v":2.7,"s":"+25C"},{"f":4.5,"v":2.55,"s":"+25C"},{"f":5.1,"v":2.3,"s":"+25C"},{"f":5.7,"v":2.2,"s":"+25C"},{"f":6.2,"v":2.0,"s":"+25C"},{"f":6.7,"v":2.3,"s":"+25C"},{"f":7.3,"v":2.3,"s":"+25C"},{"f":7.8,"v":2.0,"s":"+25C"},{"f":8.3,"v":1.8,"s":"+25C"},{"f":8.8,"v":2.0,"s":"+25C"},{"f":9.3,"v":1.9,"s":"+25C"},{"f":9.8,"v":2.25,"s":"+25C"},{"f":10.5,"v":2.2,"s":"+25C"},{"f":11.0,"v":2.15,"s":"+25C"},{"f":11.5,"v":2.45,"s":"+25C"},{"f":12.0,"v":2.55,"s":"+25C"},{"f":12.6,"v":2.7,"s":"+25C"},{"f":13.0,"v":2.6,"s":"+25C"},{"f":13.5,"v":2.35,"s":"+25C"},{"f":14.0,"v":2.25,"s":"+25C"},{"f":14.5,"v":2.45,"s":"+25C"},{"f":15.0,"v":2.55,"s":"+25C"},{"f":15.5,"v":2.7,"s":"+25C"},{"f":16.0,"v":2.85,"s":"+25C"},{"f":16.5,"v":2.95,"s":"+25C"},{"f":17.0,"v":3.0,"s":"+25C"},{"f":17.5,"v":3.2,"s":"+25C"},{"f":18.0,"v":3.4,"s":"+25C"},{"f":18.5,"v":3.5,"s":"+25C"},{"f":19.0,"v":3.2,"s":"+25C"},{"f":19.5,"v":3.4,"s":"+25C"},{"f":20.0,"v":3.5,"s":"+25C"},{"f":20.5,"v":3.5,"s":"+25C"},{"f":21.0,"v":4.0,"s":"+25C"},{"f":21.6,"v":4.4,"s":"+25C"},{"f":22,"v":5.2,"s":"+25C"},
{"f":2.0,"v":4.2,"s":"+85C"},{"f":2.3,"v":3.6,"s":"+85C"},{"f":2.5,"v":3.55,"s":"+85C"},{"f":3.0,"v":3.5,"s":"+85C"},{"f":3.6,"v":3.1,"s":"+85C"},{"f":4.65,"v":3.05,"s":"+85C"},{"f":5.3,"v":2.8,"s":"+85C"},{"f":6.0,"v":2.7,"s":"+85C"},{"f":6.8,"v":2.8,"s":"+85C"},{"f":7.5,"v":2.8,"s":"+85C"},{"f":8.4,"v":2.4,"s":"+85C"},{"f":9.0,"v":2.6,"s":"+85C"},{"f":9.6,"v":2.5,"s":"+85C"},{"f":10.5,"v":2.8,"s":"+85C"},{"f":11.2,"v":2.75,"s":"+85C"},{"f":12.0,"v":3.15,"s":"+85C"},{"f":12.6,"v":3.3,"s":"+85C"},{"f":13.2,"v":3.2,"s":"+85C"},{"f":14.0,"v":2.95,"s":"+85C"},{"f":14.5,"v":3.15,"s":"+85C"},{"f":15.0,"v":3.3,"s":"+85C"},{"f":16.0,"v":3.55,"s":"+85C"},{"f":16.7,"v":3.65,"s":"+85C"},{"f":17.6,"v":3.95,"s":"+85C"},{"f":18.4,"v":4.25,"s":"+85C"},{"f":19.0,"v":4.1,"s":"+85C"},{"f":19.6,"v":4.3,"s":"+85C"},{"f":20.4,"v":4.4,"s":"+85C"},{"f":21.0,"v":4.85,"s":"+85C"},{"f":21.6,"v":5.4,"s":"+85C"},{"f":21.7,"v":5.5,"s":"+85C"},
{"f":1.1,"v":2.85,"s":"-55C"},{"f":2.0,"v":2.6,"s":"-55C"},{"f":2.3,"v":2.0,"s":"-55C"},{"f":3.1,"v":2.15,"s":"-55C"},{"f":4.0,"v":1.9,"s":"-55C"},{"f":4.9,"v":1.7,"s":"-55C"},{"f":5.8,"v":1.48,"s":"-55C"},{"f":6.7,"v":1.55,"s":"-55C"},{"f":7.6,"v":1.44,"s":"-55C"},{"f":8.5,"v":1.12,"s":"-55C"},{"f":9.4,"v":1.25,"s":"-55C"},{"f":10.4,"v":1.44,"s":"-55C"},{"f":11.2,"v":1.48,"s":"-55C"},{"f":12.0,"v":1.82,"s":"-55C"},{"f":12.9,"v":1.71,"s":"-55C"},{"f":13.8,"v":1.41,"s":"-55C"},{"f":14.7,"v":1.62,"s":"-55C"},{"f":15.8,"v":1.84,"s":"-55C"},{"f":16.7,"v":2.02,"s":"-55C"},{"f":17.7,"v":2.33,"s":"-55C"},{"f":18.5,"v":2.38,"s":"-55C"},{"f":19.5,"v":2.46,"s":"-55C"},{"f":20.4,"v":2.3,"s":"-55C"},{"f":21.0,"v":2.92,"s":"-55C"},{"f":21.6,"v":3.43,"s":"-55C"},{"f":21.85,"v":4.6,"s":"-55C"},{"f":22,"v":6.1,"s":"-55C"}
 ]},
 "layer":[
  {"mark":{"type":"line","color":"#111111","strokeWidth":2,"clip":true},
   "encoding":{
    "x":{"field":"f","type":"quantitative","scale":{"domain":[0,22],"nice":false},"axis":{"values":[0,2,4,6,8,10,12,14,16,18,20,22],"title":"FREQUENCY (GHz)","grid":true,"labelExpr":"'' + datum.value"}},
    "y":{"field":"v","type":"quantitative","scale":{"domain":[0,10],"nice":false,"zero":false},"axis":{"values":[0,2,4,6,8,10],"title":"NOISE FIGURE (dB)","grid":true,"labelExpr":"'' + datum.value"}},
    "strokeDash":{"field":"s","type":"nominal","scale":{"domain":["+25C","+85C","-55C"],"range":[[1,0],[17,10],[3,12]]},"legend":{"title":null,"legendX":116,"legendY":69,"symbolType":"M-1,0L13.4,0","symbolSize":81,"symbolStrokeWidth":2,"labelOffset":63}}
   }},
  {"mark":{"type":"point","opacity":0,"size":0},
   "encoding":{
    "x":{"field":"f","type":"quantitative","scale":{"domain":[0,22],"nice":false},"axis":{"orient":"bottom","values":[0,1,2,3,4,5,6,7,8,9,10,11,12,13,14,15,16,17,18,19,20,21,22],"labels":false,"grid":false,"ticks":true,"title":null}},
    "y":{"field":"v","type":"quantitative","scale":{"domain":[0,10],"nice":false,"zero":false},"axis":{"orient":"left","values":[0,1,2,3,4,5,6,7,8,9,10],"labels":false,"grid":false,"ticks":true,"title":null}}
   }},
  {"mark":{"type":"point","opacity":0,"size":0},
   "encoding":{
    "x":{"field":"f","type":"quantitative","scale":{"domain":[0,22],"nice":false},"axis":{"orient":"top","values":[0,1,2,3,4,5,6,7,8,9,10,11,12,13,14,15,16,17,18,19,20,21,22],"labels":false,"grid":false,"ticks":true,"title":null}},
    "y":{"field":"v","type":"quantitative","scale":{"domain":[0,10],"nice":false,"zero":false},"axis":{"orient":"right","values":[0,1,2,3,4,5,6,7,8,9,10],"labels":false,"grid":false,"ticks":true,"title":null}}
   }}
 ],
 "resolve":{"axis":{"x":"independent","y":"independent"}}
},
{"width":1,"height":1,"view":{"stroke":null},"mark":{"type":"text","text":""}},
{"width":1,"height":1,"view":{"stroke":null},"mark":{"type":"text","text":""}},
{"width":114,"height":248,"view":{"stroke":null,"fill":"#c6c6c6"},"mark":{"type":"text","text":""}},

{"width":1,"height":1,"view":{"stroke":null},"mark":{"type":"text","text":""}},
{"width":1,"height":1,"view":{"stroke":null},"mark":{"type":"text","text":""}},
{"width":1,"height":1,"view":{"stroke":null},"mark":{"type":"text","text":""}},
{"width":1,"height":1,"view":{"stroke":null},"mark":{"type":"text","text":""}},
{"width":1,"height":1,"view":{"stroke":null},"mark":{"type":"text","text":""}},
{"width":1,"height":1,"view":{"stroke":null},"mark":{"type":"text","text":""}},
{"width":1,"height":1,"view":{"stroke":null},"mark":{"type":"text","text":""}},
{"width":114,"height":133,"view":{"stroke":null,"fill":"#c6c6c6"},"mark":{"type":"text","text":""}},

{"width":1,"height":1,"view":{"stroke":null},"mark":{"type":"text","text":""}},
{"width":56,"height":2,"view":{"stroke":null,"fill":"#af1034"},"mark":{"type":"text","text":""}},
{"width":361,"height":2,"view":{"stroke":null,"fill":"#af1034"},"mark":{"type":"text","text":""}},
{"width":164,"height":2,"view":{"stroke":null,"fill":"#af1034"},"mark":{"type":"point","opacity":0,"size":0},
 "encoding":{"x":{"datum":0,"type":"quantitative","scale":{"domain":[0,1]},
  "axis":{"orient":"bottom","domain":false,"ticks":false,"labels":false,"grid":false,"title":["For price, delivery, and to place orders: Analog Devices, Inc., One Technology Way, P.O. Box 9106, Norwood, MA 02062-9106","Phone: 781-329-4700 • Order online at www.analog.com","Application Support: Phone: 1-800-ANALOG-D"],"titleX":75,"titleAlign":"center","titleBaseline":"top","titleFont":"Liberation Sans","titleFontSize":17.2,"titleFontWeight":"normal","titleFontStyle":"italic","titleLineHeight":18.3,"titleColor":"#231f20","titlePadding":16}}}},
{"width":361,"height":2,"view":{"stroke":null,"fill":"#af1034"},"mark":{"type":"text","text":""}},
{"width":36,"height":2,"view":{"stroke":null,"fill":"#af1034"},"mark":{"type":"text","text":""}},
{"width":1,"height":1,"view":{"stroke":null},"mark":{"type":"text","text":""}},
{"width":114,"height":2,"view":{"stroke":null,"fill":"#c6c6c6"},"mark":{"type":"text","text":""}},

{"width":1,"height":1,"view":{"stroke":null},"mark":{"type":"text","text":""}},
{"width":1,"height":1,"view":{"stroke":null},"mark":{"type":"text","text":""}},
{"width":1,"height":1,"view":{"stroke":null},"mark":{"type":"text","text":""}},
{"width":1,"height":1,"view":{"stroke":null},"mark":{"type":"text","text":""}},
{"width":1,"height":1,"view":{"stroke":null},"mark":{"type":"text","text":""}},
{"width":1,"height":1,"view":{"stroke":null},"mark":{"type":"text","text":""}},
{"width":1,"height":1,"view":{"stroke":null},"mark":{"type":"text","text":""}},
{"width":114,"height":113,"view":{"stroke":null,"fill":"#c6c6c6"},"mark":{"type":"text","text":"1 - 2","font":"Liberation Sans","fontSize":22,"fontWeight":"bold","color":"#af1034","align":"center","baseline":"middle","dy":-3}}
]
}
